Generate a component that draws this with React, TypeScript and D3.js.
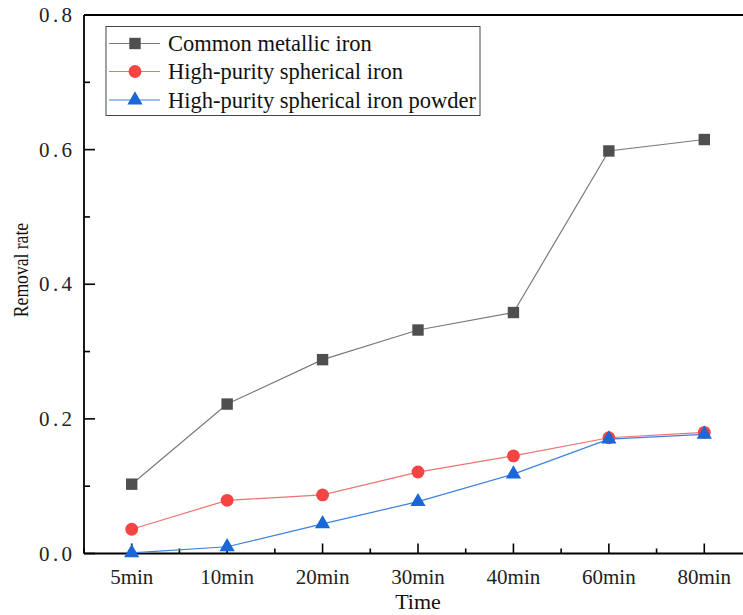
import React, { useRef, useEffect } from 'react';
import * as d3 from 'd3';

const categories = ['5min', '10min', '20min', '30min', '40min', '60min', '80min'];
const commonIron = [0.103, 0.222, 0.288, 0.332, 0.358, 0.598, 0.615];
const highPurityIron = [0.036, 0.079, 0.087, 0.121, 0.145, 0.172, 0.180];
const highPurityPowder = [0.001, 0.010, 0.044, 0.077, 0.118, 0.170, 0.177];
const yTicks = [0, 0.2, 0.4, 0.6, 0.8];
const yMinorTicks = [0.1, 0.3, 0.5, 0.7];

const seriesList = [
  { name: 'Common metallic iron', values: commonIron, color: '#4f4f4f', line: '#7a7a7a', symbol: d3.symbolSquare, size: 130 },
  { name: 'High-purity spherical iron', values: highPurityIron, color: '#f44444', line: '#f07272', symbol: d3.symbolCircle, size: 130 },
  { name: 'High-purity spherical iron powder', values: highPurityPowder, color: '#1967d8', line: '#3d80e0', symbol: d3.symbolTriangle, size: 100 },
];

const serif = '"Liberation Serif", "Times New Roman", serif';

const App = () => {
  const ref = useRef<SVGSVGElement>(null);
  const width = 743;
  const height = 615;

  useEffect(() => {
    const svg = d3.select(ref.current);
    svg.selectAll('*').remove();

    const left = 84, right = 752, top = 15, bottom = 553.5;

    const x = d3.scalePoint<string>().domain(categories).range([left, right]).padding(0.5);
    const y = d3.scaleLinear().domain([0, 0.8]).range([bottom, top]);
    const step = x.step();

    // frame (right edge falls outside the window)
    const axisColor = '#000';
    const frame = [
      [left, bottom, right, bottom],
      [left, top, right, top],
      [left, top, left, bottom],
      [right, top, right, bottom],
    ];
    frame.forEach(([x1, y1, x2, y2]) => {
      svg.append('line').attr('x1', x1).attr('y1', y1).attr('x2', x2).attr('y2', y2)
        .attr('stroke', axisColor).attr('stroke-width', 1.8);
    });

    // y ticks (inward)
    yTicks.forEach(t => {
      svg.append('line').attr('x1', left).attr('x2', left + 11).attr('y1', y(t)).attr('y2', y(t))
        .attr('stroke', axisColor).attr('stroke-width', 1.6);
      svg.append('text')
        .attr('x', 39).attr('y', y(t) + 7)
        .attr('textLength', 33)
        .attr('lengthAdjust', 'spacing')
        .attr('font-family', serif)
        .attr('font-size', 21)
        .attr('fill', '#222')
        .text(t.toFixed(1));
    });
    yMinorTicks.forEach(t => {
      svg.append('line').attr('x1', left).attr('x2', left + 6).attr('y1', y(t)).attr('y2', y(t))
        .attr('stroke', axisColor).attr('stroke-width', 1.6);
    });

    // x ticks (inward)
    categories.forEach((c, i) => {
      const cx = x(c)!;
      svg.append('line').attr('x1', cx).attr('x2', cx).attr('y1', bottom).attr('y2', bottom - 10)
        .attr('stroke', axisColor).attr('stroke-width', 1.6);
      svg.append('line').attr('x1', cx + step / 2).attr('x2', cx + step / 2).attr('y1', bottom).attr('y2', bottom - 5)
        .attr('stroke', axisColor).attr('stroke-width', 1.6);
      if (i === 0) {
        svg.append('line').attr('x1', cx - step / 2).attr('x2', cx - step / 2).attr('y1', bottom).attr('y2', bottom - 5)
          .attr('stroke', axisColor).attr('stroke-width', 1.6);
      }
      svg.append('text')
        .attr('x', cx).attr('y', 584)
        .attr('text-anchor', 'middle')
        .attr('font-family', serif)
        .attr('font-size', 21)
        .attr('fill', '#222')
        .text(c);
    });

    // axis titles
    svg.append('text')
      .attr('x', 418).attr('y', 609)
      .attr('text-anchor', 'middle')
      .attr('font-family', serif)
      .attr('font-size', 22)
      .attr('fill', '#111')
      .text('Time');
    svg.append('text')
      .attr('transform', 'translate(28,270) rotate(-90) scale(0.8,1)')
      .attr('text-anchor', 'middle')
      .attr('font-family', serif)
      .attr('font-size', 22)
      .attr('fill', '#111')
      .text('Removal rate');

    // series
    seriesList.forEach(s => {
      const line = d3.line<number>().x((_, i) => x(categories[i])!).y(d => y(d));
      svg.append('path').attr('d', line(s.values)).attr('fill', 'none')
        .attr('stroke', s.line).attr('stroke-width', 1.2);
    });
    seriesList.forEach(s => {
      const sym = d3.symbol().type(s.symbol).size(s.size);
      s.values.forEach((v, i) => {
        svg.append('path').attr('d', sym()!)
          .attr('transform', `translate(${x(categories[i])},${y(v)})`)
          .attr('fill', s.color);
      });
    });

    // legend
    const lg = svg.append('g');
    lg.append('rect').attr('x', 106).attr('y', 26.5).attr('width', 374).attr('height', 89)
      .attr('fill', '#fff').attr('stroke', '#444').attr('stroke-width', 1);
    const rowY = [43.5, 71.5, 100];
    seriesList.forEach((s, i) => {
      lg.append('line').attr('x1', 109).attr('x2', 160).attr('y1', rowY[i]).attr('y2', rowY[i])
        .attr('stroke', s.line).attr('stroke-width', 1.2);
      lg.append('path').attr('d', d3.symbol().type(s.symbol).size(s.size)()!)
        .attr('transform', `translate(135,${rowY[i]})`)
        .attr('fill', s.color);
      lg.append('text')
        .attr('x', 168).attr('y', rowY[i])
        .attr('dy', '0.35em')
        .attr('font-family', serif)
        .attr('font-size', 22.5)
        .attr('fill', '#111')
        .text(s.name);
    });
  }, []);

  return (
    <svg ref={ref} width={width} height={height}
      style={{ position: 'absolute', left: 0, top: 0, background: '#fff', display: 'block' }} />
  );
};

export default App;
